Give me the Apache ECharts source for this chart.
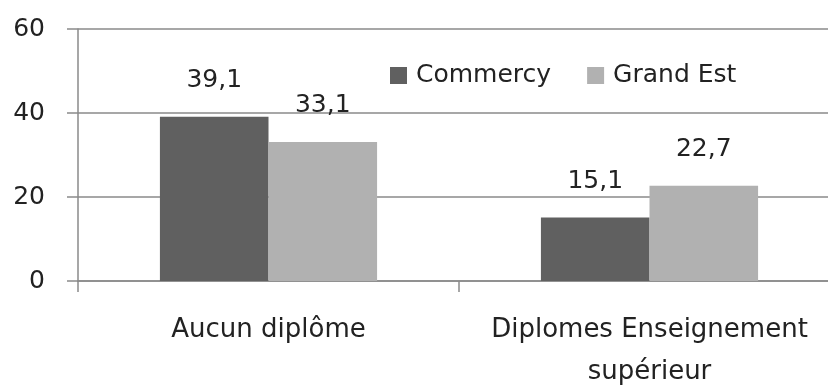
<!DOCTYPE html>
<html><head><meta charset="utf-8">
<script src="https://cdn.jsdelivr.net/npm/echarts@6/dist/echarts.min.js"></script>
<style>html,body{margin:0;padding:0;background:#fff}#c{width:828px;height:385px}</style>
</head><body><div id="c"></div>
<script>
const categories = ["Aucun diplôme", "Diplomes Enseignement\nsupérieur"];
const seriesNames = ["Commercy", "Grand Est"];
const commercy = [39.1, 15.1];
const grandEst = [33.1, 22.7];
const yTicks = [0, 20, 40, 60];

const colors = ["#606060", "#b1b1b1"];
const font = "'DejaVu Sans', sans-serif";
function mk(name, vals, si) {
  return {
    name: name, type: 'bar', barGap: '0%', barCategoryGap: '43%',
    itemStyle: { color: colors[si] },
    label: { show: true, position: 'top', distance: 24, color: '#222', fontSize: 25, fontFamily: font,
      formatter: p => String(p.value).replace('.', ',') },
    data: vals
  };
}
const chart = echarts.init(document.getElementById('c'));
chart.setOption({
  animation: false,
  textStyle: { fontFamily: font },
  legend: { left: 385, top: 58, itemWidth: 17, itemHeight: 17, itemGap: 36,
    icon: 'rect', textStyle: { fontSize: 25, color: '#222', fontFamily: font, padding: [0, 0, 0, 4] },
    data: seriesNames },
  grid: { left: 78, width: 762, top: 29, bottom: 104, containLabel: false, outerBoundsMode: 'none' },
  xAxis: { type: 'category', data: categories,
    axisLine: { lineStyle: { color: '#8a8a8a', width: 1.5 } },
    axisTick: { show: true, length: 11, lineStyle: { color: '#8a8a8a', width: 1.5 } },
    axisLabel: { interval: 0, hideOverlap: false, fontSize: 26, color: '#222', margin: 28, lineHeight: 42, fontFamily: font } },
  yAxis: { type: 'value', min: yTicks[0], max: yTicks[yTicks.length - 1], interval: 20,
    axisLine: { show: true, lineStyle: { color: '#8a8a8a', width: 1.5 } },
    axisTick: { show: true, length: 11, lineStyle: { color: '#8a8a8a', width: 1.5 } },
    splitLine: { lineStyle: { color: '#8a8a8a', width: 1.5 } },
    axisLabel: { fontSize: 25, color: '#222', margin: 33, fontFamily: font } },
  series: [mk(seriesNames[0], commercy, 0), mk(seriesNames[1], grandEst, 1)]
});
</script></body></html>
